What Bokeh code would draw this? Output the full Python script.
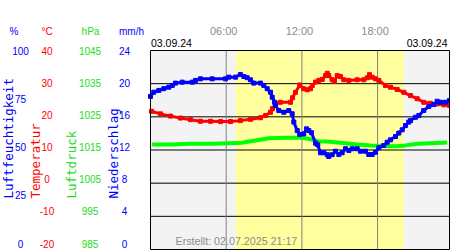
import math
from bokeh.plotting import figure
from bokeh.models import Range1d
from bokeh.core.properties import value
from bokeh.embed import file_html
from bokeh.resources import INLINE

# ---------------- data ----------------
DATE = "03.09.24"
CREATED = "Erstellt: 02.07.2025 21:17"
X_END = 23.7                       # hours shown in the plot area
HOUR_TICKS = [6, 12, 18]
HOUR_LABELS = ["06:00", "12:00", "18:00"]
SUNRISE = 6.74
SUNSET = 20.08
GRID_LEVELS = [1, 2, 3, 4, 5]      # horizontal grid lines (6 equal bands)

HUM_TICKS = [100, 75, 50, 25, 0]
TEMP_TICKS = [40, 30, 20, 10, 0, -10, -20]
PRES_TICKS = [1045, 1035, 1025, 1015, 1005, 995, 985]
PREC_TICKS = [24, 20, 16, 12, 8, 4, 0]

TEMP_T = [0.08, 0.79, 1.59, 2.38, 3.17, 3.96, 4.76, 5.55, 6.34, 7.13, 7.93, 8.72, 9.12, 9.51,
          9.67, 9.91, 10.30, 11.10, 11.26, 11.49, 11.83, 12.15, 12.42, 12.68, 12.82, 13.08,
          13.34, 13.61, 13.87, 14.01, 14.13, 14.40, 14.58, 14.80, 15.06, 15.32, 15.72, 16.38,
          16.91, 17.18, 17.36, 17.57, 17.83, 18.10, 18.63, 19.02, 19.55, 20.08, 20.61, 21.14,
          21.66, 22.19, 22.72, 23.25, 23.70]
TEMP_V = [21.1, 20.3, 19.6, 19.0, 18.5, 18.0, 18.0, 17.9, 17.9, 18.2, 18.6, 19.1, 19.8, 20.8,
          21.9, 23.6, 23.9, 23.9, 25.3, 27.0, 29.3, 28.1, 27.8, 28.1, 29.1, 30.2,
          30.7, 31.0, 32.2, 32.9, 32.2, 30.9, 30.4, 32.2, 31.9, 30.9, 30.7, 30.9,
          30.9, 31.5, 32.5, 31.7, 31.2, 30.7, 29.1, 28.6, 27.9, 27.0, 26.0, 25.0,
          23.9, 23.6, 23.4, 23.1, 22.9]

HUM_T = [0.00, 0.26, 0.66, 1.05, 1.45, 1.72, 1.98, 2.51, 3.31, 3.57, 3.96, 4.89, 5.94, 6.21,
         6.74, 7.13, 7.40, 7.66, 7.93, 8.19, 8.72, 8.98, 9.25, 9.51, 9.65, 9.83, 9.91, 10.17,
         10.57, 10.96, 11.23, 11.36, 11.63, 11.83, 12.15, 12.37, 12.55, 12.76, 13.08, 13.26,
         13.47, 13.74, 14.01, 14.13, 14.40, 14.66, 14.93, 15.19, 15.46, 15.72, 15.99, 16.38,
         16.65, 17.04, 17.30, 17.57, 17.83, 18.10, 18.49, 18.76, 19.02, 19.42, 19.68, 19.95,
         20.21, 20.47, 20.61, 21.00, 21.27, 21.66, 22.06, 22.46, 22.72, 22.99, 23.38, 23.70]
HUM_V = [76.2, 78.4, 79.3, 80.2, 81.0, 81.9, 83.1, 83.6, 83.6, 84.5, 85.3, 85.3, 85.3, 86.2,
         86.2, 87.6, 86.5, 85.9, 84.8, 83.1, 83.1, 81.9, 80.2, 78.4, 75.8, 73.2, 71.5, 68.9,
         68.0, 68.9, 67.2, 62.9, 58.5, 56.5, 56.8, 59.4, 58.5, 57.4, 52.0, 51.1,
         47.0, 47.0, 46.0, 45.1, 46.0, 47.8, 46.1, 47.0, 49.1, 48.2, 49.1, 49.1,
         47.8, 47.8, 46.1, 46.1, 47.3, 49.6, 50.8, 52.5, 53.7, 55.4, 57.2, 58.9,
         61.1, 62.9, 63.7, 65.4, 66.3, 68.9, 71.0, 72.0, 73.7, 73.2, 73.2, 74.1]

PRES_T = [0.13, 1.72, 3.04, 4.89, 6.21, 7.27, 7.79, 8.58, 9.38, 10.70, 12.02, 12.42, 12.94,
          13.21, 14.01, 15.06, 16.38, 17.44, 18.49, 19.55, 20.21, 21.14, 22.19, 23.52]
PRES_V = [1015.8, 1015.8, 1016.0, 1016.0, 1016.2, 1016.3, 1016.7, 1017.2, 1017.7, 1017.9,
          1017.9, 1017.6, 1017.2, 1016.8, 1016.7, 1016.3, 1015.8, 1015.5, 1015.3, 1015.2,
          1015.5, 1016.0, 1016.2, 1016.4]

# ---------------- style / layout ----------------
BLUE = "#0000ff"
RED = "#ff0000"
GREEN = "#00ff00"
GREEN_TXT = "#22dd22"
GRAY_TXT = "#8c8c8c"
NIGHT = "#f3f3f3"
DAY = "#ffff9f"
FONT = "Liberation Sans"
TITLE_FONT = "DejaVu Sans Mono"

W, H = 450, 250
PA_L, PA_R, PA_T, PA_B = 150, 449, 50, 249   # plot area in canvas pixels
LBL_B = 243                                   # lowest tick label centre

hx = X_END / (PA_R - PA_L)                    # hours per pixel
x_range = Range1d(-PA_L * hx, (W - PA_L) * hx)
g = 6 / (PA_B - PA_T)
y_range = Range1d(-(H - PA_B) * g, 6 + PA_T * g)


def value_range(ticks):
    top, bot = max(ticks), min(ticks)
    s = (top - bot) / (LBL_B - PA_T)
    return Range1d(top - (H - PA_T) * s, top + PA_T * s)


p = figure(width=W, height=H, x_range=x_range, y_range=y_range,
           x_axis_location=None, y_axis_location=None, min_border=0,
           toolbar_location=None, output_backend="svg")
p.outline_line_color = None
p.background_fill_color = "white"
p.border_fill_color = "white"
p.xgrid.visible = False
p.ygrid.visible = False
p.extra_y_ranges = {"hum": value_range(HUM_TICKS), "temp": value_range(TEMP_TICKS),
                    "pres": value_range(PRES_TICKS), "prec": value_range(PREC_TICKS),
                    "py": Range1d(H, 0)}
p.extra_x_ranges = {"px": Range1d(0, W)}

# plot area: night background, daylight band
p.quad(left=[0], right=[X_END], bottom=[0], top=[6], fill_color=NIGHT, line_color=None)
p.quad(left=[SUNRISE], right=[SUNSET], bottom=[0], top=[6], fill_color=DAY, line_color=None)
# grid lines
p.segment(x0=[0] * len(GRID_LEVELS), x1=[X_END] * len(GRID_LEVELS), y0=GRID_LEVELS,
          y1=GRID_LEVELS, line_color="black", line_width=1)
p.segment(x0=HOUR_TICKS, x1=HOUR_TICKS, y0=[0] * 3, y1=[6] * 3,
          line_color="#808080", line_width=1)

# series
p.line(PRES_T, PRES_V, y_range_name="pres", color=GREEN, line_width=4)
p.line(TEMP_T, TEMP_V, y_range_name="temp", color=RED, line_width=3)
p.scatter(TEMP_T, TEMP_V, y_range_name="temp", marker="square", size=4, color=RED)
p.line(HUM_T, HUM_V, y_range_name="hum", color=BLUE, line_width=3)
p.scatter(HUM_T, HUM_V, y_range_name="hum", marker="square", size=4, color=BLUE)

# plot-area border
p.quad(left=[0], right=[X_END], bottom=[0], top=[6], fill_color=None, line_color="black",
       line_width=1)


def txt(xs, ys, texts, color, size="10px", align="center", xr="px", yr="py", **kw):
    opts = dict(text_font=value(FONT), text_font_size=size, text_align=align,
                text_baseline="middle", text_color=color)
    opts.update(kw)
    p.text(x=xs, y=ys, text=texts, x_range_name=xr, y_range_name=yr, **opts)


# left scales: (range, ticks, label centre, header centre, unit, colour, title, title centre)
COLS = [("hum", HUM_TICKS, 20, 13.5, "%", BLUE, "Luftfeuchtigkeit", 7.5),
        ("temp", TEMP_TICKS, 46.5, 46.5, "°C", RED, "Temperatur", 35),
        ("pres", PRES_TICKS, 89.5, 90, "hPa", GREEN_TXT, "Luftdruck", 71),
        ("prec", PREC_TICKS, 124, 131, "mm/h", BLUE, "Niederschlag", 113)]
for name, ticks, cx, hcx, unit, col, title, tcx in COLS:
    txt([cx] * len(ticks), ticks, [str(t) for t in ticks], col, yr=name)
    txt([hcx], [31], [unit], col)
    txt([tcx], [198], [title], col, size="12.5px", align="left", angle=math.pi / 2,
        text_font=value(TITLE_FONT))

# time labels, dates, creation note
txt(HOUR_TICKS, [30.5] * 3, HOUR_LABELS, GRAY_TXT, size="11px", xr="default", x_offset=-2.5)
txt([150.5], [42.3], [DATE], "black", size="10.5px", align="left")
txt([447], [42.3], [DATE], "black", size="10.5px", align="right")
txt([175], [240.7], [CREATED], GRAY_TXT, size="10.7px", align="left")

open("out.html", "w").write(file_html(p, INLINE))
